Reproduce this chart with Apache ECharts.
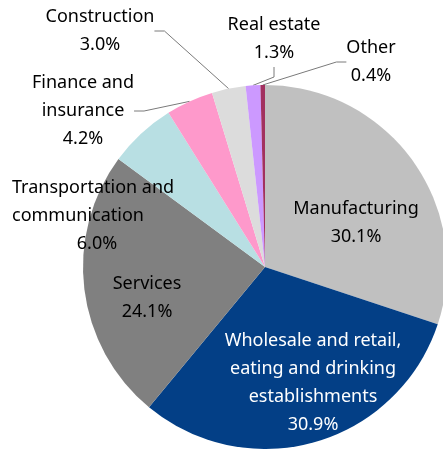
<!DOCTYPE html>
<html>
<head>
<meta charset="utf-8">
<script src="https://cdn.jsdelivr.net/npm/echarts@6/dist/echarts.min.js"></script>
<style>
  html, body { margin: 0; padding: 0; background: #fff; }
  #chart { width: 443px; height: 449px; }
</style>
</head>
<body>
<div id="chart"></div>
<script>
// industry shares, %
const categories = [
  'Manufacturing',
  'Wholesale and retail,\neating and drinking\nestablishments',
  'Services',
  'Transportation and\ncommunication',
  'Finance and\ninsurance',
  'Construction',
  'Real estate',
  'Other'
]
const values = [30.1, 30.9, 24.1, 6.0, 4.2, 3.0, 1.3, 0.4]

const colors = ['#c0c0c0', '#033f86', '#808080', '#b8dfe3', '#fe99cb', '#dcdcdc', '#cc99ff', '#a2305f']
// label centres (px)
const labelPos = [
  [356, 223], [313, 383], [147, 298], [12, 216],
  [83, 111], [100, 31], [274, 39], [371, 62]
]
const insideIdx = [0, 1, 2]

const chart = echarts.init(document.getElementById('chart'))

const data = values.map((v, i) => {
  const inside = insideIdx.includes(i)
  const item = {
    value: v,
    name: categories[i],
    itemStyle: { color: colors[i] },
    label: {
      position: inside ? 'inside' : 'outside',
      color: i === 1 ? '#fff' : '#000'
    },
    labelLine: { show: !inside && i !== 3 }
  }
  if (i === 3) {
    item.label.formatter = '{l|Transportation and}\n{l|communication}\n{c|6.0%}'
  }
  return item
})

chart.setOption({
  animation: false,
  series: [{
    type: 'pie',
    center: [265, 267],
    radius: [0, 182],
    startAngle: 90,
    clockwise: true,
    minShowLabelAngle: 0,
    avoidLabelOverlap: false,
    data: data,
    label: {
      show: true,
      overflow: 'none',
      fontFamily: 'Noto Sans',
      fontSize: 18,
      lineHeight: 28,
      align: 'center',
      formatter: p => p.name + '\n' + p.value.toFixed(1) + '%',
      rich: {
        l: { fontFamily: 'Noto Sans', fontSize: 18, lineHeight: 28, width: 170, align: 'left' },
        c: { fontFamily: 'Noto Sans', fontSize: 18, lineHeight: 28, width: 120, align: 'center' }
      }
    },
    labelLine: {
      length: 10,
      length2: 10,
      lineStyle: { color: '#7a7a7a', width: 1 }
    },
    labelLayout: params => {
      const p = labelPos[params.dataIndex]
      return {
        x: p[0],
        y: p[1],
        align: params.dataIndex === 3 ? 'left' : 'center',
        verticalAlign: 'middle'
      }
    },
    emphasis: { disabled: true }
  }]
})
</script>
</body>
</html>
